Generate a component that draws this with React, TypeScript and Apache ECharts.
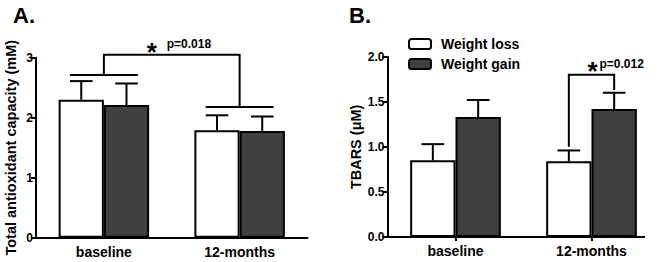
import React, { useEffect, useRef } from "react";
import * as echarts from "echarts";

const categories = ["baseline", "12-months"];
const seriesNames = ["Weight loss", "Weight gain"];

// Panel A: Total antioxidant capacity (mM)
const tacLoss = [2.30, 1.79];
const tacLossSem = [0.31, 0.25];
const tacGain = [2.21, 1.78];
const tacGainSem = [0.36, 0.24];
const tacGroupLine = [2.71, 2.18];
const tacBracketTop = 3.05;
const tacStar = "*";
const tacP = "p=0.018";

// Panel B: TBARS (uM)
const tbarsLoss = [0.85, 0.84];
const tbarsLossSem = [0.18, 0.12];
const tbarsGain = [1.33, 1.42];
const tbarsGainSem = [0.19, 0.18];
const tbarsBracketTop = 1.8;
const tbarsBracketLeft = 1.0;
const tbarsBracketRight = 1.63;
const tbarsStar = "*";
const tbarsP = "p=0.012";

const FONT = "'Liberation Sans', Arial, Helvetica, sans-serif";
const LW = 2;

function errRender(params: any, api: any) {
  const cat = api.value(0);
  const mean = api.value(1);
  const sem = api.value(2);
  const g = api.value(3);
  const band = api.size([1, 0])[0];
  const bw = band / 3;
  const base = api.coord([cat, mean]);
  const top = api.coord([cat, mean + sem]);
  const x = base[0] + (g === 0 ? -bw / 2 : bw / 2);
  const cap = bw / 4;
  const st = { stroke: "#000", lineWidth: LW };
  return {
    type: "group",
    children: [
      { type: "line", shape: { x1: x, y1: base[1], x2: x, y2: top[1] }, style: st },
      { type: "line", shape: { x1: x - cap, y1: top[1], x2: x + cap, y2: top[1] }, style: st },
    ],
  };
}

function starText(x: number, y: number, star: string, p: string, starDx: number, pDx: number) {
  return [
    {
      type: "text",
      x: x + starDx,
      y: y + 7.5,
      style: {
        text: star,
        font: `bold 26px ${FONT}`,
        fill: "#000",
        textAlign: "center",
        textVerticalAlign: "middle",
      },
    },
    {
      type: "text",
      x: x + pDx,
      y: y,
      style: {
        text: p,
        font: `bold 12px ${FONT}`,
        fill: "#000",
        textAlign: "left",
        textVerticalAlign: "middle",
      },
    },
  ];
}

function annotARender(params: any, api: any) {
  const band = api.size([1, 0])[0];
  const bw = band / 3;
  const cap = bw / 4;
  const st = { stroke: "#000", lineWidth: LW, fill: "none" };
  const children: any[] = [];
  const ys: number[] = [];
  const xs: number[] = [];
  for (let i = 0; i < categories.length; i++) {
    const c = api.coord([i, tacGroupLine[i]]);
    ys.push(c[1]);
    xs.push(c[0]);
    children.push({
      type: "line",
      shape: { x1: c[0] - bw / 2 - cap, y1: c[1], x2: c[0] + bw / 2 + cap, y2: c[1] },
      style: st,
    });
  }
  const top = api.coord([0, tacBracketTop])[1];
  children.push({
    type: "polyline",
    shape: { points: [[xs[0], ys[0]], [xs[0], top], [xs[1], top], [xs[1], ys[1]]] },
    style: st,
  });
  const mid = (xs[0] + xs[1]) / 2;
  children.push(...starText(mid, top - 10.5, tacStar, tacP, -20, -5));
  return { type: "group", children };
}

function annotBRender(params: any, api: any) {
  const band = api.size([1, 0])[0];
  const bw = band / 3;
  const st = { stroke: "#000", lineWidth: LW, fill: "none" };
  const c = api.coord([1, 0]);
  const xl = c[0] - bw / 2;
  const xr = c[0] + bw / 2;
  const top = api.coord([1, tbarsBracketTop])[1];
  const yl = api.coord([1, tbarsBracketLeft])[1];
  const yr = api.coord([1, tbarsBracketRight])[1];
  const children: any[] = [
    {
      type: "polyline",
      shape: { points: [[xl, yl], [xl, top], [xr, top], [xr, yr]] },
      style: st,
    },
  ];
  const mid = (xl + xr) / 2;
  children.push(...starText(mid, top - 11, tbarsStar, tbarsP, 1, 8));
  return { type: "group", children };
}

export default function App() {
  const ref = useRef<HTMLDivElement>(null);
  useEffect(() => {
    if (!ref.current) return;
    const chart = echarts.init(ref.current, null, { renderer: "svg" });
    const axisLabel = { color: "#000", fontWeight: "bold" as const, fontSize: 12, fontFamily: FONT, margin: 3 };
    const catLabel = { color: "#000", fontWeight: "bold" as const, fontSize: 14, fontFamily: FONT, margin: 7 };
    const lineStyle = { color: "#000", width: LW };
    const nameStyle = { color: "#000", fontWeight: "bold" as const, fontSize: 14.5, fontFamily: FONT };

    const barStyle = (fill: string) => ({ color: fill, borderColor: "#000", borderWidth: LW });

    const errData = (m: number[], s: number[], g: number) => m.map((v, i) => [i, v, s[i], g]);

    chart.setOption({
      animation: false,
      backgroundColor: "#fff",
      legend: {
        data: seriesNames,
        orient: "vertical",
        left: 408,
        top: 37,
        padding: 0,
        itemWidth: 22,
        itemHeight: 10,
        itemGap: 6,
        selectedMode: false,
        textStyle: { color: "#000", fontWeight: "bold", fontSize: 14, fontFamily: FONT, padding: [0, 0, 0, 5] },
      },
      graphic: [
        { type: "text", left: 13, top: 4, style: { text: "A.", font: `bold 22px ${FONT}`, fill: "#000" } },
        { type: "text", left: 349, top: 4, style: { text: "B.", font: `bold 22px ${FONT}`, fill: "#000" } },
        {
          type: "line",
          shape: { x1: 387, y1: 237, x2: 645, y2: 237 },
          style: { stroke: "#000", lineWidth: LW },
          z: 10,
        },
      ],
      grid: [
        { left: 36, top: 57.7, width: 271.5, height: 180 },
        { left: 387.5, top: 56.7, width: 272, height: 180.3 },
      ],
      xAxis: [
        {
          type: "category",
          gridIndex: 0,
          data: categories,
          axisLine: { lineStyle },
          axisTick: { alignWithLabel: true, length: 4, lineStyle },
          axisLabel: catLabel,
        },
        {
          type: "category",
          gridIndex: 1,
          data: categories,
          axisLine: { show: false },
          axisTick: { show: true, alignWithLabel: true, length: 4, lineStyle },
          axisLabel: catLabel,
        },
      ],
      yAxis: [
        {
          type: "value",
          gridIndex: 0,
          min: 0,
          max: 3,
          interval: 1,
          name: "Total antioxidant capacity (mM)",
          nameLocation: "middle",
          nameGap: 18,
          nameTextStyle: nameStyle,
          axisLine: { show: true, lineStyle },
          axisTick: { show: true, length: 5, lineStyle },
          axisLabel,
          splitLine: { show: false },
        },
        {
          type: "value",
          gridIndex: 1,
          min: 0,
          max: 2,
          interval: 0.5,
          name: "TBARS (\u03BCM)",
          nameLocation: "middle",
          nameGap: 24,
          nameTextStyle: nameStyle,
          axisLine: { show: true, lineStyle },
          axisTick: { show: true, length: 5, lineStyle },
          axisLabel: { ...axisLabel, formatter: (v: number) => v.toFixed(1) },
          splitLine: { show: false },
        },
      ],
      series: [
        {
          name: seriesNames[0], type: "bar", xAxisIndex: 0, yAxisIndex: 0,
          data: tacLoss, barWidth: "33.333%", barGap: "0%", itemStyle: barStyle("#ffffff"),
        },
        {
          name: seriesNames[1], type: "bar", xAxisIndex: 0, yAxisIndex: 0,
          data: tacGain, barWidth: "33.333%", barGap: "0%", itemStyle: barStyle("#404040"),
        },
        {
          name: seriesNames[0], type: "bar", xAxisIndex: 1, yAxisIndex: 1,
          data: tbarsLoss, barWidth: "33.333%", barGap: "0%", itemStyle: barStyle("#ffffff"),
        },
        {
          name: seriesNames[1], type: "bar", xAxisIndex: 1, yAxisIndex: 1,
          data: tbarsGain, barWidth: "33.333%", barGap: "0%", itemStyle: barStyle("#404040"),
        },
        {
          type: "custom", xAxisIndex: 0, yAxisIndex: 0, z: 5, clip: false,
          renderItem: errRender,
          data: [...errData(tacLoss, tacLossSem, 0), ...errData(tacGain, tacGainSem, 1)],
        },
        {
          type: "custom", xAxisIndex: 1, yAxisIndex: 1, z: 5, clip: false,
          renderItem: errRender,
          data: [...errData(tbarsLoss, tbarsLossSem, 0), ...errData(tbarsGain, tbarsGainSem, 1)],
        },
        {
          type: "custom", xAxisIndex: 0, yAxisIndex: 0, z: 5, clip: false,
          renderItem: annotARender,
          data: [[0, 0]],
        },
        {
          type: "custom", xAxisIndex: 1, yAxisIndex: 1, z: 5, clip: false,
          renderItem: annotBRender,
          data: [[1, 0]],
        },
      ],
    });
    return () => chart.dispose();
  }, []);
  return (
    <div
      ref={ref}
      style={{ position: "fixed", left: 0, top: 0, width: 664, height: 262, background: "#fff" }}
    />
  );
}
